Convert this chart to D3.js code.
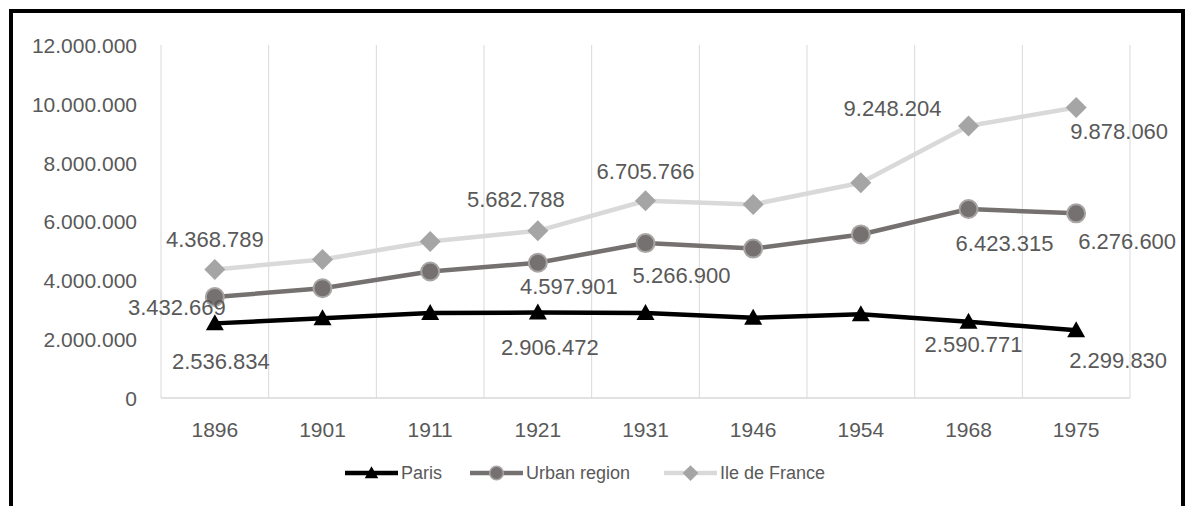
<!DOCTYPE html>
<html>
<head>
<meta charset="utf-8">
<script src="https://cdn.jsdelivr.net/npm/d3@7"></script>
<style>
  html, body { margin: 0; padding: 0; background: #fff; }
  svg { display: block; font-family: "Liberation Sans", Arial, sans-serif; }
</style>
</head>
<body>
<svg id="chart" width="1190" height="506"></svg>
<script>
// data
const years = ["1896", "1901", "1911", "1921", "1931", "1946", "1954", "1968", "1975"];
const paris = [2536834, 2714000, 2888000, 2906472, 2891000, 2725000, 2850000, 2590771, 2299830];
const urbanRegion = [3432669, 3730000, 4300000, 4597901, 5266900, 5080000, 5560000, 6423315, 6276600];
const ileDeFrance = [4368789, 4710000, 5320000, 5682788, 6705766, 6580000, 7320000, 9248204, 9878060];
const yTicks = [0, 2000000, 4000000, 6000000, 8000000, 10000000, 12000000];

// which points carry a value label, and where the label sits (dx, dy from the point)
const labelSpots = {
  paris: { 0: [6, 38], 3: [12, 35], 7: [5, 23], 8: [42, 30] },
  urban: { 0: [-38, 10], 3: [31, 24], 4: [36, 32], 7: [36, 34], 8: [51, 28] },
  ile:   { 0: [0, -30], 3: [-22, -32], 4: [0, -29], 7: [-76, -18], 8: [43, 24] }
};

const series = [
  { key: "ile", name: "Ile de France", values: ileDeFrance, line: "#d9d9d9", fill: "#a5a5a5", stroke: "#a5a5a5", marker: "diamond" },
  { key: "urban", name: "Urban region", values: urbanRegion, line: "#767171", fill: "#767171", stroke: "#a9a5a5", marker: "circle" },
  { key: "paris", name: "Paris", values: paris, line: "#000000", fill: "#000000", stroke: "#000000", marker: "triangle" }
];

const svg = d3.select("#chart");
const textColor = "#595959";
const fmt = v => d3.format(",")(v).replace(/,/g, ".");

// outer frame
svg.append("rect")
  .attr("x", 11).attr("y", 11)
  .attr("width", 1172).attr("height", 520)
  .attr("fill", "none").attr("stroke", "#000").attr("stroke-width", 4);

const plotL = 161, plotR = 1130, plotT = 45, plotB = 398;

const x = d3.scaleBand().domain(years).range([plotL, plotR]);
const y = d3.scaleLinear().domain([0, 12000000]).range([plotB, plotT]);
const cx = d => x(d) + x.bandwidth() / 2;

// vertical category gridlines
const gridX = years.map(d => x(d)).concat([plotR]);
svg.append("g").selectAll("line")
  .data(gridX)
  .join("line")
  .attr("x1", d => d).attr("x2", d => d)
  .attr("y1", plotT).attr("y2", plotB)
  .attr("stroke", "#d9d9d9").attr("stroke-width", 1);

// baseline
svg.append("line")
  .attr("x1", plotL).attr("x2", plotR)
  .attr("y1", plotB).attr("y2", plotB)
  .attr("stroke", "#d9d9d9").attr("stroke-width", 1.5);

// y axis labels
const yAxis = svg.append("g")
  .attr("transform", `translate(${plotL - 24},0)`)
  .call(d3.axisLeft(y).tickValues(yTicks).tickSize(0).tickPadding(0).tickFormat(fmt));
yAxis.select(".domain").remove();
yAxis.selectAll("text")
  .attr("fill", textColor)
  .style("font-size", "21px")
  .style("font-family", "'Liberation Sans', Arial, sans-serif")
  .attr("dy", "0.35em");

// x axis labels
const xAxis = svg.append("g")
  .attr("transform", `translate(0,${plotB})`)
  .call(d3.axisBottom(x).tickSize(0).tickPadding(0));
xAxis.select(".domain").remove();
xAxis.selectAll("text")
  .attr("fill", textColor)
  .style("font-size", "21px")
  .style("font-family", "'Liberation Sans', Arial, sans-serif")
  .attr("y", 32)
  .attr("dy", "0.35em");

const line = d3.line()
  .x((d, i) => cx(years[i]))
  .y(d => y(d));

function drawMarker(g, type, fill, stroke) {
  if (type === "triangle") {
    g.append("path")
      .attr("d", "M0,-9 L9,7 L-9,7 Z")
      .attr("fill", fill);
  } else if (type === "circle") {
    g.append("circle")
      .attr("r", 9)
      .attr("fill", fill)
      .attr("stroke", stroke).attr("stroke-width", 2);
  } else {
    g.append("path")
      .attr("d", "M0,-10.5 L10.5,0 L0,10.5 L-10.5,0 Z")
      .attr("fill", fill);
  }
}

series.forEach(s => {
  svg.append("path")
    .datum(s.values)
    .attr("d", line)
    .attr("fill", "none")
    .attr("stroke", s.line)
    .attr("stroke-width", 4.5)
    .attr("stroke-linejoin", "round");

  s.values.forEach((v, i) => {
    const g = svg.append("g").attr("transform", `translate(${cx(years[i])},${y(v)})`);
    drawMarker(g, s.marker, s.fill, s.stroke);
  });
});

// data labels
series.forEach(s => {
  const spots = labelSpots[s.key];
  Object.keys(spots).forEach(k => {
    const i = +k;
    svg.append("text")
      .attr("x", cx(years[i]) + spots[k][0])
      .attr("y", y(s.values[i]) + spots[k][1])
      .attr("dy", "0.35em")
      .attr("text-anchor", "middle")
      .attr("fill", textColor)
      .style("font-size", "22px")
      .text(fmt(s.values[i]));
  });
});

// legend
const legendItems = [series[2], series[1], series[0]];
const legendX = [345, 470, 664];
const legendY = 473;
legendItems.forEach((s, i) => {
  const g = svg.append("g").attr("transform", `translate(${legendX[i]},${legendY})`);
  g.append("line")
    .attr("x1", 0).attr("x2", 53)
    .attr("y1", 0).attr("y2", 0)
    .attr("stroke", s.line).attr("stroke-width", 4.5);
  const m = g.append("g").attr("transform", "translate(26.5,0) scale(0.75)");
  drawMarker(m, s.marker, s.fill, s.stroke);
  g.append("text")
    .attr("x", 56).attr("y", 0).attr("dy", "0.35em")
    .attr("fill", textColor)
    .style("font-size", "18px")
    .text(s.name);
});
</script>
</body>
</html>
